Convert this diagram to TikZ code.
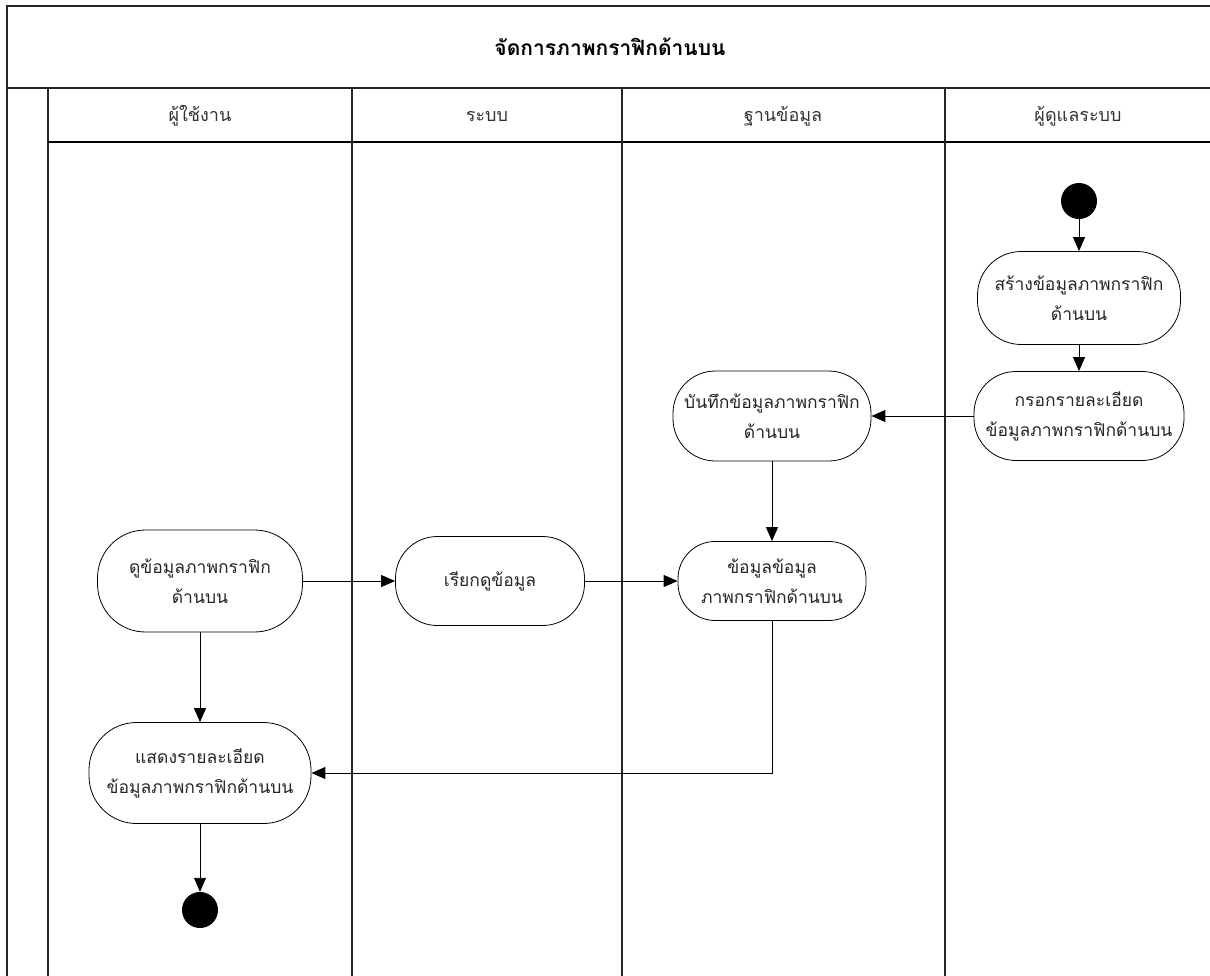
\documentclass[tikz,border=0pt]{standalone}
\usepackage{fontspec}
\newfontfamily\thaifont[Script=Thai]{Loma}
\usetikzlibrary{arrows.meta}
\begin{document}
\begin{tikzpicture}[x=1pt,y=-1pt,
  frameline/.style={line width=1.8pt,draw=black!85},
  act/.style 2 args={draw=black,line width=0.8pt,fill=white,rounded corners={0.47*#2},
    minimum width=#1,minimum height=#2,align=center,
    font=\thaifont\fontsize{17.5}{30}\selectfont,inner sep=0pt,text=black!85},
  dot/.style={circle,fill=black,minimum size=36pt,inner sep=0pt},
  flow/.style={line width=0.9pt,-{Triangle[length=14pt,width=12pt]}},
  hdr/.style={font=\thaifont\fontsize{18}{20}\selectfont,text=black!80}]
\useasboundingbox (0,0) rectangle (1210,975);
% frame
\draw[frameline] (7,977) -- (7,6) -- (1212,6);
\draw[frameline] (7,88) -- (1212,88);
\draw[frameline] (48,977) -- (48,88);
\draw[line width=1.1pt] (48,142) -- (1212,142);
\foreach \x in {352,622,945} \draw[frameline] (\x,88) -- (\x,977);
% title and headers
\node[font=\thaifont\bfseries\fontsize{21}{22}\selectfont] (title) at (610,47) {จัดการภาพกราฟิกด้านบน};
\node[hdr] (h1) at (200,116) {ผู้ใช้งาน};
\node[hdr] (h2) at (487,116) {ระบบ};
\node[hdr] (h3) at (783,116) {ฐานข้อมูล};
\node[hdr] (h4) at (1078,116) {ผู้ดูแลระบบ};
% nodes
\node[dot] (start) at (1079,201) {};
\node[act={203pt}{93pt}] (create) at (1079,298) {สร้างข้อมูลภาพกราฟิก\\ด้านบน};
\node[act={210pt}{89pt}] (fill) at (1079,416) {กรอกรายละเอียด\\ข้อมูลภาพกราฟิกด้านบน};
\node[act={198pt}{90pt}] (save) at (772,416) {บันทึกข้อมูลภาพกราฟิก\\ด้านบน};
\node[act={188pt}{79pt}] (data) at (772,581) {ข้อมูลข้อมูล\\ภาพกราฟิกด้านบน};
\node[act={205pt}{102pt}] (view) at (200,581) {ดูข้อมูลภาพกราฟิก\\ด้านบน};
\node[act={189pt}{89pt}] (fetch) at (490,581) {เรียกดูข้อมูล};
\node[act={222pt}{101pt}] (show) at (200,773) {แสดงรายละเอียด\\ข้อมูลภาพกราฟิกด้านบน};
\node[dot] (end) at (200,910) {};
% edges
\draw[flow] (start) -- (create);
\draw[flow] (create) -- (fill);
\draw[flow] (fill) -- (save);
\draw[flow] (save) -- (data);
\draw[flow] (view) -- (fetch);
\draw[flow] (fetch) -- (data);
\draw[flow] (view) -- (show);
\draw[flow] (data.south) |- (show.east);
\draw[flow] (show) -- (end);
\end{tikzpicture}
\end{document}
